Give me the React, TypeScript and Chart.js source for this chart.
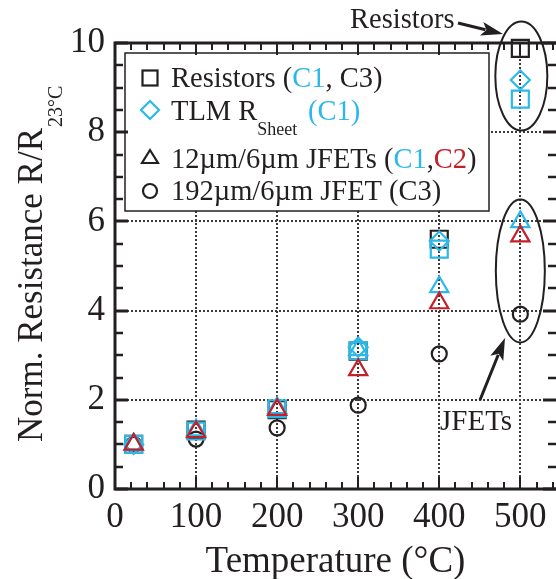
import { useEffect, useRef } from "react";
import { Chart, registerables } from "chart.js";

Chart.register(...registerables);

// ---- data ----
const temps = [23, 100, 200, 300, 400, 500];
const resistorsC3 = [1.0, 1.32, 1.78, 3.09, 5.6, 9.88];
const resistorsC1 = [1.0, 1.3, 1.8, 3.1, 5.38, 8.74];
const tlmSheetC1: (number | null)[] = [1.0, null, null, 3.18, 5.56, 9.17];
const jfet12C1 = [1.0, 1.32, 1.82, 3.12, 4.53, 5.99];
const jfet12C2 = [1.0, 1.28, 1.78, 2.67, 4.17, 5.67];
const jfet192C3 = [1.0, 1.12, 1.37, 1.88, 3.03, 3.92];

const xTicks = [0, 100, 200, 300, 400, 500];
const yTicks = [0, 2, 4, 6, 8, 10];
const xGrid = [100, 200, 300, 400, 500];
const yGrid = [2, 4, 6, 8];

const BLACK = "#231f20";
const CYAN = "#2db8ea";
const RED = "#c4202a";
const SERIF = "'Liberation Serif', 'Times New Roman', serif";
const LF = 28.5;

function pts(arr: (number | null)[]) {
  return temps
    .map((t, i) => ({ x: t, y: arr[i] }))
    .filter((p) => p.y !== null) as { x: number; y: number }[];
}

function ds(label: string, arr: (number | null)[], color: string, style: string, r: number) {
  return {
    label,
    data: pts(arr),
    showLine: false,
    pointStyle: style,
    pointRadius: r,
    pointHoverRadius: r,
    pointBorderWidth: 2.2,
    pointBorderColor: color,
    pointBackgroundColor: "rgba(0,0,0,0)",
    borderColor: color,
    backgroundColor: "rgba(0,0,0,0)",
    clip: false as const,
  };
}

function arrow(ctx: CanvasRenderingContext2D, x1: number, y1: number, x2: number, y2: number) {
  const ang = Math.atan2(y2 - y1, x2 - x1);
  const hl = 22;
  const hw = 7;
  const bx = x2 - hl * Math.cos(ang);
  const by = y2 - hl * Math.sin(ang);
  ctx.beginPath();
  ctx.moveTo(x1, y1);
  ctx.lineTo(bx + 4 * Math.cos(ang), by + 4 * Math.sin(ang));
  ctx.lineWidth = 3;
  ctx.strokeStyle = BLACK;
  ctx.stroke();
  ctx.beginPath();
  ctx.moveTo(x2, y2);
  ctx.lineTo(bx + hw * Math.sin(ang), by - hw * Math.cos(ang));
  ctx.lineTo(bx + 5 * Math.cos(ang), by + 5 * Math.sin(ang));
  ctx.lineTo(bx - hw * Math.sin(ang), by + hw * Math.cos(ang));
  ctx.closePath();
  ctx.fillStyle = BLACK;
  ctx.fill();
}

function segs(ctx: CanvasRenderingContext2D, x: number, y: number, parts: [string, string, number, number][]) {
  let cx = x;
  for (const [txt, col, size, dy] of parts) {
    ctx.font = `${size}px ${SERIF}`;
    ctx.fillStyle = col;
    ctx.fillText(txt, cx, y + dy);
    cx += ctx.measureText(txt).width;
  }
}

const decorPlugin = {
  id: "decor",
  beforeDatasetsDraw(chart: any) {
    const { ctx, chartArea: a, scales } = chart;
    const { x, y } = scales;
    ctx.save();
    ctx.strokeStyle = "#3a3a3a";
    ctx.lineWidth = 2;
    ctx.setLineDash([2, 2]);
    for (const v of xGrid) {
      const px = Math.round(x.getPixelForValue(v));
      ctx.beginPath();
      ctx.moveTo(px, a.top);
      ctx.lineTo(px, a.bottom);
      ctx.stroke();
    }
    for (const v of yGrid) {
      const py = Math.round(y.getPixelForValue(v));
      ctx.beginPath();
      ctx.moveTo(a.left, py);
      ctx.lineTo(a.right, py);
      ctx.stroke();
    }
    ctx.restore();

    // legend box (white, over the grid)
    ctx.save();
    const L = 125, T = 53, R = 489, B = 211;
    ctx.fillStyle = "#fff";
    ctx.fillRect(L, T, R - L, B - T);
    ctx.strokeStyle = BLACK;
    ctx.lineWidth = 1.5;
    ctx.strokeRect(L, T, R - L, B - T);
    ctx.lineWidth = 2.2;
    const sx = 150;
    ctx.strokeStyle = BLACK;
    ctx.strokeRect(sx - 7.5, 78 - 7.5, 15, 15);
    ctx.strokeStyle = CYAN;
    ctx.beginPath();
    ctx.moveTo(sx, 101);
    ctx.lineTo(sx + 9, 110);
    ctx.lineTo(sx, 119);
    ctx.lineTo(sx - 9, 110);
    ctx.closePath();
    ctx.stroke();
    ctx.strokeStyle = BLACK;
    ctx.beginPath();
    ctx.moveTo(sx, 150);
    ctx.lineTo(sx + 8, 163);
    ctx.lineTo(sx - 8, 163);
    ctx.closePath();
    ctx.stroke();
    ctx.beginPath();
    ctx.arc(sx, 191, 7, 0, Math.PI * 2);
    ctx.stroke();
    ctx.textBaseline = "alphabetic";
    ctx.textAlign = "left";
    const tx = 171;
    segs(ctx, tx, 87, [
      ["Resistors (", BLACK, LF, 0],
      ["C1", CYAN, LF, 0],
      [", C3)", BLACK, LF, 0],
    ]);
    segs(ctx, tx, 120, [
      ["TLM R", BLACK, LF, 0],
      ["Sheet", BLACK, 18, 15],
    ]);
    ctx.font = `${LF}px ${SERIF}`;
    ctx.fillStyle = CYAN;
    ctx.fillText("(C1)", 308, 120);
    segs(ctx, tx, 168, [
      ["12\u00b5m/6\u00b5m JFETs (", BLACK, LF, 0],
      ["C1", CYAN, LF, 0],
      [",", BLACK, LF, 0],
      ["C2", RED, LF, 0],
      [")", BLACK, LF, 0],
    ]);
    segs(ctx, tx, 200, [["192\u00b5m/6\u00b5m JFET (C3)", BLACK, LF, 0]]);
    ctx.restore();
  },
  afterDraw(chart: any) {
    const { ctx, chartArea: a, scales } = chart;
    const { x, y } = scales;
    ctx.save();
    ctx.strokeStyle = BLACK;
    ctx.setLineDash([]);
    const tick = (x1: number, y1: number, x2: number, y2: number, w: number) => {
      ctx.lineWidth = w;
      ctx.beginPath();
      ctx.moveTo(x1, y1);
      ctx.lineTo(x2, y2);
      ctx.stroke();
    };
    for (let v = 0; v <= 544; v += 20) {
      const px = Math.round(x.getPixelForValue(v));
      const major = v % 100 === 0;
      const len = major ? 12 : 7;
      tick(px, a.bottom, px, a.bottom - len, 2);
      tick(px, a.top, px, a.top + len, 2);
    }
    for (let v = 0; v <= 10; v += 0.5) {
      const py = Math.round(y.getPixelForValue(v));
      const major = v % 2 === 0;
      const len = major ? 13 : 8;
      tick(a.left, py, a.left + len, py, major ? 3 : 2.5);
      tick(a.right, py, a.right - len, py, major ? 3 : 2.5);
    }
    ctx.lineWidth = 3;
    ctx.beginPath();
    ctx.moveTo(a.right + 2, a.top);
    ctx.lineTo(a.left, a.top);
    ctx.lineTo(a.left, a.bottom);
    ctx.lineTo(a.right + 2, a.bottom);
    ctx.stroke();

    const ex = x.getPixelForValue(500);
    ctx.lineWidth = 2;
    ctx.beginPath();
    ctx.ellipse(ex + 1, y.getPixelForValue(9.26), 26, 54.5, 0, 0, Math.PI * 2);
    ctx.stroke();
    ctx.beginPath();
    ctx.ellipse(ex, y.getPixelForValue(4.89), 24.5, 71.5, 0, 0, Math.PI * 2);
    ctx.stroke();
    arrow(ctx, 458, 23, 503, 34);
    arrow(ctx, 480, 400, 505, 338);
    ctx.fillStyle = BLACK;
    ctx.textAlign = "left";
    ctx.textBaseline = "alphabetic";
    ctx.font = `${LF}px ${SERIF}`;
    ctx.fillText("Resistors", 350, 28);
    ctx.font = `29px ${SERIF}`;
    ctx.fillText("JFETs", 440, 430);

    ctx.font = `37px ${SERIF}`;
    ctx.textAlign = "center";
    ctx.fillText("Temperature (\u00b0C)", (a.left + a.right) / 2, 572);
    ctx.translate(42, 442);
    ctx.rotate(-Math.PI / 2);
    ctx.textAlign = "left";
    ctx.font = `35px ${SERIF}`;
    const main = "Norm. Resistance R/R";
    ctx.fillText(main, 0, 0);
    const w = ctx.measureText(main).width;
    ctx.font = `20px ${SERIF}`;
    ctx.fillText("23\u00b0C", w + 1, 20);
    ctx.restore();
  },
};

export default function App() {
  const ref = useRef<HTMLCanvasElement>(null);
  useEffect(() => {
    if (!ref.current) return;
    const chart = new Chart(ref.current, {
      type: "scatter",
      data: {
        datasets: [
          ds("12µm/6µm JFETs (C2)", jfet12C2, RED, "triangle", 10.5),
          ds("12µm/6µm JFETs (C1)", jfet12C1, CYAN, "triangle", 10.5),
          ds("TLM R_Sheet (C1)", tlmSheetC1, CYAN, "rectRot", 9.5),
          ds("Resistors (C1)", resistorsC1, CYAN, "rect", 12),
          ds("Resistors (C3)", resistorsC3, BLACK, "rect", 12),
          ds("192µm/6µm JFET (C3)", jfet192C3, BLACK, "circle", 7.5),
        ] as any,
      },
      options: {
        responsive: false,
        animation: false,
        layout: { autoPadding: false, padding: { top: 43, right: 0, left: 0, bottom: 0 } },
        plugins: { legend: { display: false }, tooltip: { enabled: false } },
        scales: {
          x: {
            type: "linear",
            min: 0,
            max: 544,
            grid: { display: false },
            border: { display: false },
            afterBuildTicks: (s: any) => {
              s.ticks = xTicks.map((v) => ({ value: v }));
            },
            afterFit: (s: any) => {
              s.height = 90;
              s.paddingLeft = 0;
              s.paddingRight = 0;
            },
            ticks: {
              font: { family: SERIF, size: 35 },
              color: BLACK,
              padding: 0,
              maxRotation: 0,
              autoSkip: false,
            },
          },
          y: {
            type: "linear",
            min: 0,
            max: 10,
            grid: { display: false },
            border: { display: false },
            afterBuildTicks: (s: any) => {
              s.ticks = yTicks.map((v) => ({ value: v }));
            },
            afterFit: (s: any) => {
              s.width = 115;
              s.paddingTop = 0;
              s.paddingBottom = 0;
            },
            ticks: {
              font: { family: SERIF, size: 35 },
              color: BLACK,
              padding: 2,
              autoSkip: false,
            },
          },
        },
      } as any,
      plugins: [decorPlugin],
    });
    return () => chart.destroy();
  }, []);
  return (
    <div style={{ position: "absolute", left: 0, top: 0, width: 556, height: 579, overflow: "hidden", background: "#fff" }}>
      <canvas ref={ref} width={556} height={579} style={{ display: "block" }} />
    </div>
  );
}
